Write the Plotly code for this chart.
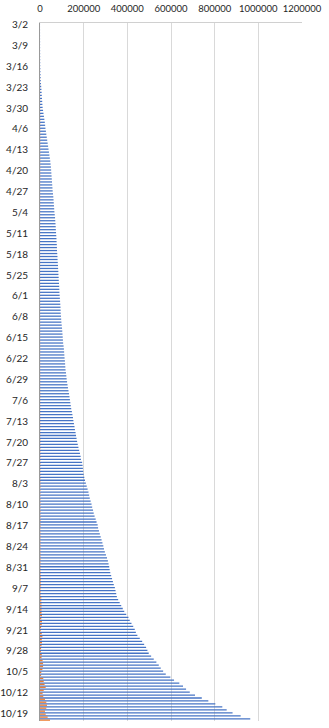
import pandas as pd
import plotly.graph_objects as go

# Categories: daily dates 3/2 .. 10/21
dates = [f"{d.month}/{d.day}" for d in pd.date_range("2020-03-02", "2020-10-21", freq="D")]
tick_labels = dates[::7]

# Cumulative series (thousands), read per month
cum_mar = [0.2,0.2,0.3,0.3,0.4,0.4,0.5,0.5,0.6,0.7, 0.8,0.9,1.0,1.1,1.2,1.6,2.0,2.5,3.0,3.5,
           4.5,5.5,6.5,7.4,8.3,9.2,10.1,11.0,12.0,14.0]
cum_apr = [16,18,20,22,23.5,25,27,29,31,33, 35,37,39,41,43,45,47,48.5,50,51,
           52,53,54,55,56,57,58,59.5,61,62]
cum_may = [63,64,65,66,67.5,69,70,71,72,72.5, 73.5,74.5,75.5,76,77,77.5,78,79,80,80.5,
           81.5,82.5,83,84,84.5,85.5,86,87,88,88.5, 89]
cum_jun = [90,91,92,93,94,94.5,95,96,97,98, 99.5,101,102,103,104,105,106,108,109.5,110.5,
           111.5,112.5,114,115,116,117,119,120.5,122,124]
cum_jul = [126,128,130.5,133,135,137,139,141,143,146, 148.5,151,153,155.5,158,160,163,165,167.5,170,
           173,176,179.5,183,186,187.5,193,195,196.5,198, 200]
cum_aug = [203,206,210,214,218,222,225,228,232,236, 239,243,246,250,255,259,264,266,270,274,
           278,282,286,290,293,297,302,307,311,314, 317]
cum_sep = [319,322,326,330,334,338,343,346,349,352, 358,365,372,379,386,395,405,411,419,427,
           434,439,446,457,468,477,486,492,498,509]
cum_oct = [521,533,544,553,564,576,597,614,638,655, 669,686,710,741,771,803,835,855,882,919, 963]

# Daily series (thousands), read per month
day_mar = [0,0,0,0,0,0,0,0,0,0.1, 0.1,0.1,0.1,0.1,0.1,0.2,0.2,0.3,0.3,0.3,
           0.4,0.4,0.5,0.5,0.5,0.6,0.6,0.6,0.7,0.8]
day_apr = [1,1,1,1,1,1,1,1,1.2,1.2, 1.2,1.2,1.2,1.2,1.2,1.2,1.1,1.0,1.0,0.9, 0.9,0.9,0.8,0.8,0.8,0.8,0.8,0.8,0.8,0.7]
day_may = [0.7,0.7,0.7,0.7,0.8,0.8,0.7,0.7,0.6,0.5, 0.6,0.6,0.6,0.5,0.6,0.5,0.5,0.6,0.6,0.5,
           0.6,0.6,0.5,0.6,0.5,0.6,0.5,0.6,0.6,0.5, 0.5]
day_jun = [0.6,0.6,0.6,0.6,0.6,0.5,0.5,0.6,0.6,0.6, 0.7,0.7,0.6,0.6,0.6,0.7,0.7,0.8,0.8,0.7,
           0.7,0.7,0.8,0.8,0.8,0.8,0.9,0.9,0.9,1.0]
day_jul = [1.0,1.0,1.1,1.1,1.0,1.0,1.0,1.1,1.1,1.2, 1.2,1.2,1.1,1.2,1.2,1.2,1.3,1.2,1.3,1.3,
           1.4,1.4,1.5,1.5,1.5,1.2,1.8,1.4,1.3,1.3, 1.5]
day_aug = [1.6,1.6,1.7,1.8,1.8,1.8,1.7,1.7,1.9,1.9, 1.8,2.0,1.8,2.0,2.2,2.0,2.4,1.6,2.0,2.2,
           2.2,2.2,2.3,2.4,2.0,2.4,2.8,2.8,2.5,2.2, 2.0]
day_sep = [2,3,4,4,4,5,3,3,3,6, 6,7,7,7,7,9,6,9,8,5, 3,8,11,8,9,7,5,4,8,7]
day_oct = [12,14,14,11,6,5,15,17,21,26, 17,12,15,23,29,32,29,23,26,35, 46]

cumulative = [v * 1000 for v in cum_mar + cum_apr + cum_may + cum_jun + cum_jul + cum_aug + cum_sep + cum_oct]
daily = [v * 1000 for v in day_mar + day_apr + day_may + day_jun + day_jul + day_aug + day_sep + day_oct]

FONT = "Lato"

fig = go.Figure()
fig.add_trace(go.Bar(y=dates, x=cumulative, orientation="h", name="cumulative",
                     marker=dict(color="rgba(68,114,196,0.99)", line=dict(width=0))))
fig.add_trace(go.Bar(y=dates, x=daily, orientation="h", name="daily",
                     marker=dict(color="rgba(237,125,49,0.99)", line=dict(width=0))))

fig.update_layout(
    width=329, height=728,
    margin=dict(l=40, r=27, t=23, b=7, autoexpand=False),
    paper_bgcolor="white", plot_bgcolor="white",
    barmode="group", bargap=0.15, bargroupgap=0,
    showlegend=False,
    font=dict(family=FONT, size=10, color="#404040"),
    xaxis=dict(
        side="top", range=[0, 1200000], dtick=200000, tick0=0,
        tickformat="d", tickangle=0, automargin=False,
        showgrid=True, gridcolor="#D9D9D9", gridwidth=1.3,
        showline=True, linecolor="#D0D0D0", linewidth=1,
        zeroline=False, ticks="", ticklabelstandoff=6,
        tickfont=dict(family=FONT, size=9.5, color="#262626"),
    ),
    yaxis=dict(
        type="category", categoryorder="array", categoryarray=dates,
        autorange="reversed", tickmode="array", tickvals=tick_labels, ticktext=tick_labels,
        automargin=False,
        showgrid=False, showline=True, linecolor="#999999", linewidth=1,
        ticks="", ticklabelstandoff=9, zeroline=False,
        tickfont=dict(family=FONT, size=10, color="#262626"),
    ),
)

fig.write_html("out.html")
